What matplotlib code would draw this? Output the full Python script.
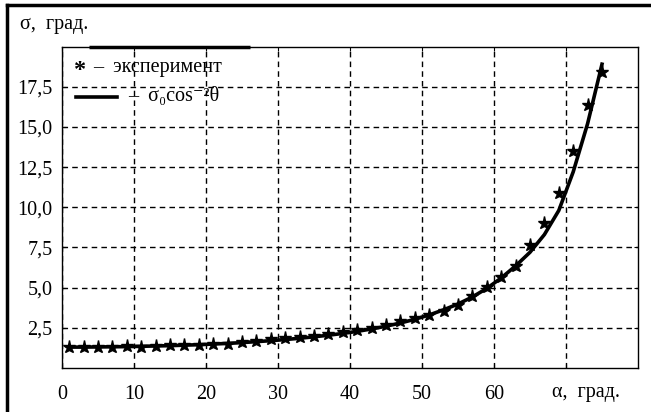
import matplotlib
matplotlib.use("Agg")
import matplotlib.pyplot as plt
from matplotlib.lines import Line2D

plt.rcParams['font.family'] = ['Liberation Serif', 'DejaVu Serif']

# experimental points (alpha, deg) and sigma
alpha_exp = [1, 3, 5, 7, 9, 11, 13, 15, 17, 19, 21, 23, 25, 27, 29, 31, 33, 35, 37,
             39, 41, 43, 45, 47, 49, 51, 53, 55, 57, 59, 61, 63, 65, 67, 69, 71, 73, 75]
sigma_exp = [1.32, 1.33, 1.32, 1.32, 1.34, 1.33, 1.38, 1.40, 1.44, 1.42, 1.50, 1.47,
             1.60, 1.71, 1.78, 1.84, 1.90, 2.00, 2.09, 2.25, 2.35, 2.46, 2.66, 2.91,
             3.08, 3.29, 3.53, 3.95, 4.47, 5.05, 5.63, 6.33, 7.63, 9.04, 10.9, 13.5,
             16.37, 18.4]

# theoretical curve
alpha_fit = [1, 3, 5, 7, 9, 11, 13, 15, 17, 19, 21, 23, 25, 27, 29, 31, 33, 35, 37,
             39, 41, 43, 45, 47, 49, 51, 53, 55, 57, 59, 61, 63, 65, 67, 69, 71, 73, 75]
sigma_fit = [1.30, 1.30, 1.31, 1.32, 1.33, 1.35, 1.37, 1.39, 1.42, 1.45, 1.49, 1.53,
             1.58, 1.64, 1.70, 1.77, 1.85, 1.94, 2.04, 2.15, 2.28, 2.43, 2.60, 2.80,
             3.03, 3.30, 3.62, 3.98, 4.42, 4.95, 5.60, 6.35, 7.20, 8.30, 9.80, 12.2,
             15.2, 18.9]

xticks = [0, 10, 20, 30, 40, 50, 60, 70]
xticklabels = ['0', '10', '20', '30', '40', '50', '60', '']
yticks = [2.5, 5.0, 7.5, 10.0, 12.5, 15.0, 17.5]
yticklabels = ['2,5', '5,0', '7,5', '10,0', '12,5', '15,0', '17,5']

W, H = 651, 412
FS = 14.5
fig = plt.figure(figsize=(W / 100, H / 100), dpi=100)
ax = fig.add_axes([62 / W, 1 - 368 / H, (638 - 62) / W, (368 - 46.5) / H])

ax.plot(alpha_fit, sigma_fit, color='black', lw=2.6, zorder=3)
ax.plot(alpha_exp, sigma_exp, linestyle='none', marker='*', markersize=9.5,
        color='black', zorder=4)

ax.set_xlim(0, 80)
ax.set_ylim(0, 20)
ax.set_xticks(xticks)
ax.set_xticklabels(xticklabels)
ax.set_yticks(yticks)
ax.set_yticklabels(yticklabels)
ax.tick_params(direction='in', length=3, width=0.8, top=True, right=True,
               labelsize=FS)
ax.tick_params(axis='x', pad=12)
ax.tick_params(axis='y', pad=7)
ax.grid(True, color='black', linestyle=(0, (4, 3)), linewidth=1)
for s in ax.spines.values():
    s.set_linewidth(1)

# legend (drawn manually)
ax.plot([0.047, 0.327], [1, 1], transform=ax.transAxes, color='black', lw=2.5,
        clip_on=False, solid_capstyle='butt')
ax.text(0.031, 0.925, '*', transform=ax.transAxes, fontsize=FS + 3,
        fontweight='bold', va='center', ha='center')
ax.text(0.054, 0.936, '–  эксперимент', transform=ax.transAxes, fontsize=FS,
        va='center', ha='left')
ax.add_line(Line2D([0.024, 0.095], [0.843, 0.843], transform=ax.transAxes,
                   color='black', lw=2.6))
ax.text(0.115, 0.846, '–  σ₀cos⁻²θ', transform=ax.transAxes, fontsize=FS,
        va='center', ha='left')

fig.text(20 / W, 1 - 24 / H, 'σ,  град.', fontsize=FS, va='center', ha='left')
fig.text(552 / W, 1 - 392 / H, 'α,  град.', fontsize=FS, va='center', ha='left')

# outer frame (left and top visible)
fig.add_artist(Line2D([7 / W, 7 / W], [0, 1 - 5 / H], transform=fig.transFigure,
                      color='black', lw=2.5))
fig.add_artist(Line2D([7 / W, 1], [1 - 5 / H, 1 - 5 / H], transform=fig.transFigure,
                      color='black', lw=2.5))

fig.savefig('out.png', dpi=100)
